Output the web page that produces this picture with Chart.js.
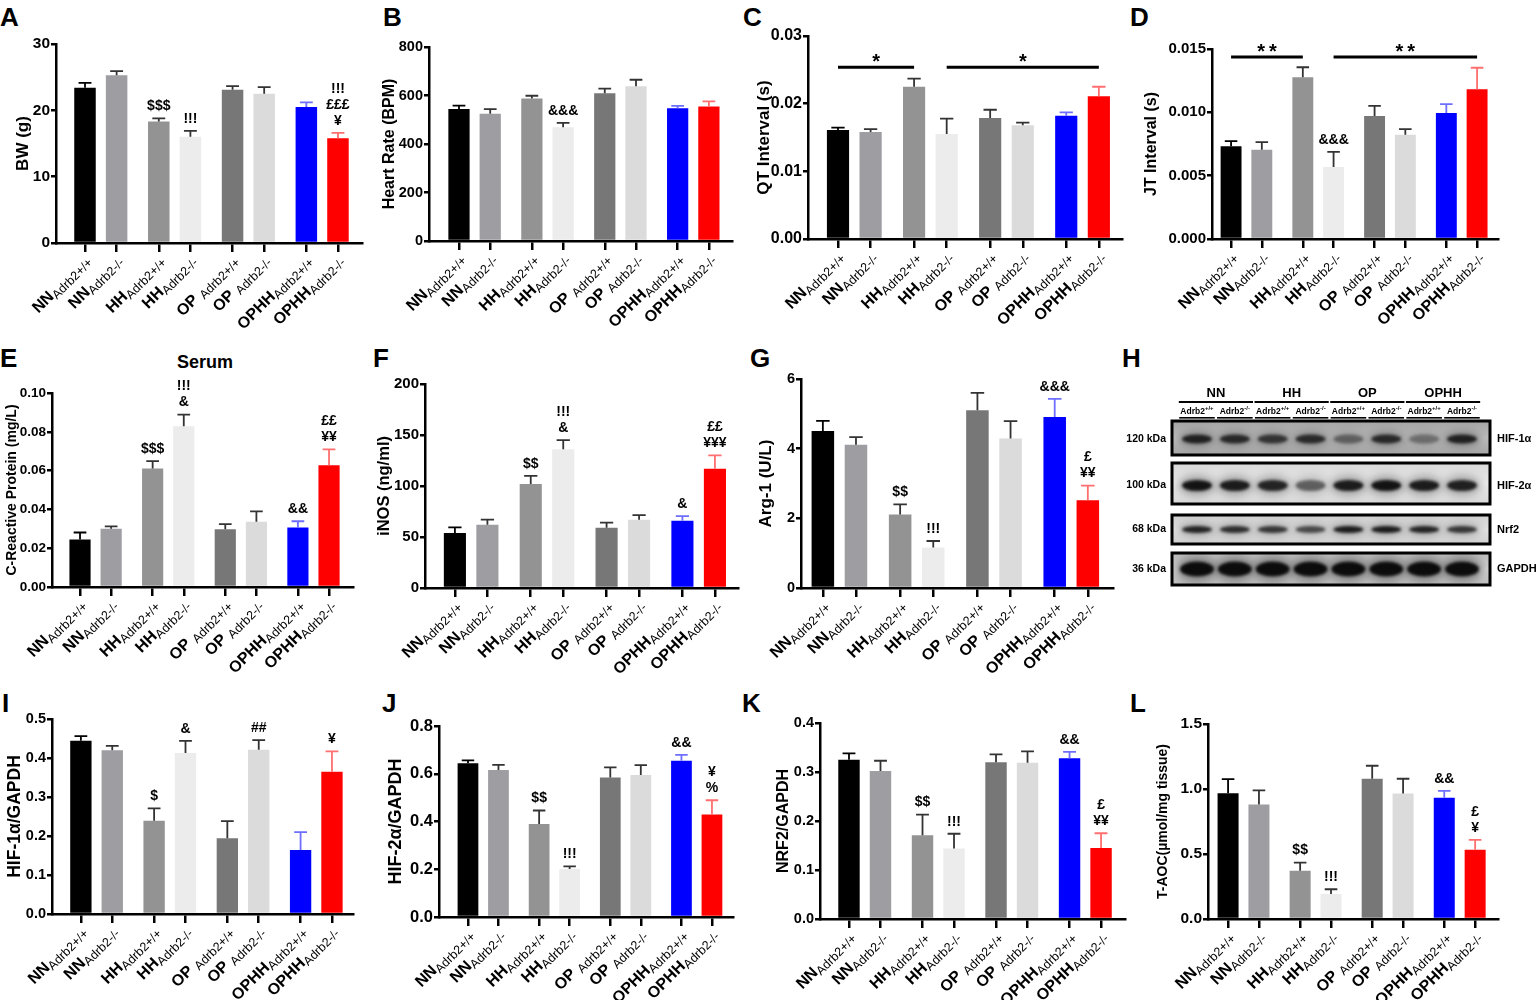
<!DOCTYPE html>
<html>
<head>
<meta charset="utf-8">
<script src="https://cdn.jsdelivr.net/npm/chart.js@4.4.0/dist/chart.umd.min.js"></script>
<style>
  body { margin: 0; background: #fff; width: 1536px; height: 1000px; position: relative; overflow: hidden;
         font-family: "Liberation Sans", Arial, Helvetica, sans-serif; }
  canvas { position: absolute; }
  .letter { position: absolute; font-weight: bold; font-size: 26px; line-height: 26px; color: #000; }
  #serum { position: absolute; left: 205px; top: 353px; transform: translateX(-50%);
           font-weight: bold; font-size: 18px; line-height: 18px; color: #000; }
</style>
</head>
<body>
<div class="letter" style="left:0px;top:4px">A</div>
<div class="letter" style="left:383px;top:4px">B</div>
<div class="letter" style="left:743px;top:4px">C</div>
<div class="letter" style="left:1130px;top:4px">D</div>
<div class="letter" style="left:0px;top:345px">E</div>
<div class="letter" style="left:373px;top:345px">F</div>
<div class="letter" style="left:750px;top:345px">G</div>
<div class="letter" style="left:1122px;top:345px">H</div>
<div class="letter" style="left:2px;top:690px">I</div>
<div class="letter" style="left:382px;top:690px">J</div>
<div class="letter" style="left:742px;top:690px">K</div>
<div class="letter" style="left:1130px;top:690px">L</div>
<div id="serum">Serum</div>

<script>
// groups and colours (same order in every panel)
const groupLabels = ['NN', 'NN', 'HH', 'HH', 'OP ', 'OP ', 'OPHH', 'OPHH'];
const genotypes = ['Adrb2+/+', 'Adrb2-/-', 'Adrb2+/+', 'Adrb2-/-', 'Adrb2+/+', 'Adrb2-/-', 'Adrb2+/+', 'Adrb2-/-'];
const barColors = ['#000000', '#9d9da2', '#939393', '#ececec', '#777777', '#dbdbdb', '#0000ff', '#ff0000'];
const errColors = ['#000000', '#333333', '#333333', '#333333', '#333333', '#333333', '#6f6fff', '#ff6f6f'];

// A - body weight
const bwTicks = ['0', '10', '20', '30'];
const bwMean = [23.4, 25.3, 18.3, 16.0, 23.1, 22.5, 20.5, 15.8];
const bwSem = [0.75, 0.6, 0.5, 0.9, 0.55, 1.0, 0.7, 0.8];
const bwMarks = ['', '', '$$$', '!!!', '', '', '', '!!!\n£££\n¥'];

// B - heart rate
const hrTicks = ['0', '200', '400', '600', '800'];
const hrMean = [544, 525, 588, 469, 609, 638, 547, 555];
const hrSem = [14, 19, 11, 18, 19, 27, 10, 21];
const hrMarks = ['', '', '', '&&&', '', '', '', ''];

// C - QT interval
const qtTicks = ['0.00', '0.01', '0.02', '0.03'];
const qtMean = [0.0161, 0.0158, 0.0225, 0.0155, 0.0179, 0.0168, 0.0182, 0.0211];
const qtSem = [0.00035, 0.00045, 0.0012, 0.0023, 0.0012, 0.0004, 0.0005, 0.0014];
const qtMarks = ['', '', '', '', '', '', '', ''];
const qtBracketFrom = [0, 3];
const qtBracketTo = [2, 7];
const qtBracketText = ['*', '*'];
const qtBracketLevel = 0.0254;

// D - JT interval
const jtTicks = ['0.000', '0.005', '0.010', '0.015'];
const jtMean = [0.00732, 0.00705, 0.01276, 0.00568, 0.00971, 0.00824, 0.00995, 0.01182];
const jtSem = [0.0004, 0.0006, 0.0008, 0.0012, 0.0008, 0.00044, 0.0007, 0.0017];
const jtMarks = ['', '', '', '&&&', '', '', '', ''];
const jtBracketFrom = [0, 3];
const jtBracketTo = [2, 7];
const jtBracketText = ['**', '**'];
const jtBracketLevel = 0.01437;

// E - C-reactive protein
const crpTicks = ['0.00', '0.02', '0.04', '0.06', '0.08', '0.10'];
const crpMean = [0.0245, 0.0300, 0.0611, 0.0829, 0.0298, 0.0336, 0.0307, 0.0628];
const crpSem = [0.0036, 0.0012, 0.0038, 0.0060, 0.0026, 0.0054, 0.0032, 0.0081];
const crpMarks = ['', '', '$$$', '!!!\n&', '', '', '&&', '££\n¥¥'];

// F - iNOS
const inosTicks = ['0', '50', '100', '150', '200'];
const inosMean = [54, 62, 102, 136, 59, 67, 66, 117];
const inosSem = [5.5, 5, 8, 9, 5, 4.5, 4.5, 13];
const inosMarks = ['', '', '$$', '!!!\n&', '', '', '&', '££\n¥¥¥'];

// G - Arg-1
const argTicks = ['0', '2', '4', '6'];
const argMean = [4.51, 4.11, 2.11, 1.16, 5.10, 4.29, 4.91, 2.52];
const argSem = [0.29, 0.22, 0.29, 0.19, 0.50, 0.50, 0.52, 0.42];
const argMarks = ['', '', '$$', '!!!', '', '', '&&&', '£\n¥¥'];

// H - western blot (relative band darkness per lane)
const blotGroups = ['NN', 'HH', 'OP', 'OPHH'];
const blotLaneNames = ['Adrb2', 'Adrb2', 'Adrb2', 'Adrb2', 'Adrb2', 'Adrb2', 'Adrb2', 'Adrb2'];
const blotLaneSup = ['+/+', '-/-', '+/+', '-/-', '+/+', '-/-', '+/+', '-/-'];
const blotLanes = [1, 2, 3, 4, 5, 6, 7, 8];
const blotProteins = ['HIF-1α', 'HIF-2α', 'Nrf2', 'GAPDH'];
const blotMarkers = ['120 kDa', '100 kDa', '68 kDa', '36 kDa'];
const bandHif1 = [0.85, 0.8, 0.72, 0.78, 0.45, 0.8, 0.38, 0.85];
const bandHif2 = [0.95, 0.9, 0.85, 0.55, 0.9, 0.95, 0.9, 0.88];
const bandNrf2 = [0.85, 0.8, 0.75, 0.65, 0.9, 0.9, 0.85, 0.75];
const bandGapdh = [1, 1, 1, 1, 1, 1, 1, 1];

// I - HIF-1a / GAPDH
const hif1Ticks = ['0.0', '0.1', '0.2', '0.3', '0.4', '0.5'];
const hif1Mean = [0.444, 0.420, 0.239, 0.413, 0.194, 0.421, 0.164, 0.365];
const hif1Sem = [0.012, 0.011, 0.032, 0.031, 0.044, 0.025, 0.046, 0.052];
const hif1Marks = ['', '', '$', '&', '', '##', '', '¥'];

// J - HIF-2a / GAPDH
const hif2Ticks = ['0.0', '0.2', '0.4', '0.6', '0.8'];
const hif2Mean = [0.644, 0.616, 0.390, 0.201, 0.584, 0.595, 0.654, 0.429];
const hif2Sem = [0.012, 0.021, 0.056, 0.011, 0.043, 0.041, 0.025, 0.060];
const hif2Marks = ['', '', '$$', '!!!', '', '', '&&', '¥\n%'];

// K - NRF2 / GAPDH
const nrf2Ticks = ['0.0', '0.1', '0.2', '0.3', '0.4'];
const nrf2Mean = [0.325, 0.302, 0.171, 0.144, 0.320, 0.319, 0.328, 0.145];
const nrf2Sem = [0.013, 0.021, 0.042, 0.030, 0.016, 0.023, 0.013, 0.030];
const nrf2Marks = ['', '', '$$', '!!!', '', '', '&&', '£\n¥¥'];

// L - T-AOC
const taocTicks = ['0.0', '0.5', '1.0', '1.5'];
const taocMean = [0.968, 0.881, 0.372, 0.193, 1.079, 0.966, 0.932, 0.532];
const taocSem = [0.108, 0.108, 0.062, 0.036, 0.100, 0.113, 0.054, 0.077];
const taocMarks = ['', '', '$$', '!!!', '', '', '&&', '£\n¥'];

const FONT = '"Liberation Sans", Arial, Helvetica, sans-serif';
Chart.defaults.font.family = FONT;
Chart.defaults.color = '#000';

// pairs of bars sit closer together than the groups
const slots = groupLabels.map((_, i) => i + Math.floor(i / 2) / 3);

// upper error bars, significance marks and brackets
const errorBars = {
  id: 'errorBars',
  afterDatasetsDraw(chart, args, opts) {
    const { ctx, scales: { x, y } } = chart;
    const bars = chart.getDatasetMeta(0).data;
    ctx.save();
    bars.forEach((bar, i) => {
      const top = y.getPixelForValue(opts.mean[i]);
      const hi = y.getPixelForValue(opts.mean[i] + opts.sem[i]);
      const half = bar.width * 0.3;
      ctx.strokeStyle = errColors[i];
      ctx.lineWidth = 1.8;
      ctx.beginPath();
      ctx.moveTo(bar.x, top);
      ctx.lineTo(bar.x, hi);
      ctx.moveTo(bar.x - half, hi);
      ctx.lineTo(bar.x + half, hi);
      ctx.stroke();

      const lines = opts.marks[i] ? opts.marks[i].split('\n') : [];
      ctx.fillStyle = '#000';
      ctx.font = 'bold 14px ' + FONT;
      ctx.textAlign = 'center';
      ctx.textBaseline = 'middle';
      lines.forEach((t, j) => {
        ctx.fillText(t, bar.x, hi - 12 - (lines.length - 1 - j) * 16);
      });
    });

    if (opts.from) {
      const ly = y.getPixelForValue(opts.level);
      opts.from.forEach((f, k) => {
        const x1 = x.getPixelForValue(slots[f]);
        const x2 = x.getPixelForValue(slots[opts.to[k]]);
        ctx.strokeStyle = '#000';
        ctx.lineWidth = 3;
        ctx.beginPath();
        ctx.moveTo(x1, ly);
        ctx.lineTo(x2, ly);
        ctx.stroke();
        ctx.font = 'bold 20px ' + FONT;
        ctx.textAlign = 'center';
        ctx.textBaseline = 'alphabetic';
        ctx.letterSpacing = opts.text[k].length > 1 ? '4px' : '0px';
        ctx.fillText(opts.text[k], (x1 + x2) / 2 + (opts.text[k].length > 1 ? 2 : 0), ly + 1);
        ctx.letterSpacing = '0px';
      });
    }
    ctx.restore();
  }
};

// rotated group labels with subscript genotype
const axisLabels = {
  id: 'axisLabels',
  afterDraw(chart) {
    const { ctx, chartArea, scales: { x } } = chart;
    ctx.save();
    ctx.fillStyle = '#000';
    slots.forEach((s, i) => {
      const px = x.getPixelForValue(s);
      ctx.save();
      ctx.translate(px + 3, chartArea.bottom + 15);
      ctx.rotate(-Math.PI / 4);
      ctx.textAlign = 'right';
      ctx.textBaseline = 'middle';
      ctx.font = '12.5px ' + FONT;
      ctx.fillText(genotypes[i], 0, 4);
      const w = ctx.measureText(genotypes[i]).width;
      ctx.font = 'bold 16px ' + FONT;
      ctx.fillText(groupLabels[i], -w, 0);
      ctx.restore();
    });
    ctx.restore();
  }
};

function makePanel(p) {
  const cv = document.createElement('canvas');
  const left = p.titleX - 10, top = p.T - 30;
  const w = p.R + 15 - left, h = p.B + 95 - top;
  cv.width = w; cv.height = h;
  cv.style.left = left + 'px'; cv.style.top = top + 'px';
  cv.style.width = w + 'px'; cv.style.height = h + 'px';
  document.body.appendChild(cv);

  const tv = p.ticks.map(Number);
  const step = tv[1] - tv[0];
  new Chart(cv, {
    type: 'bar',
    data: {
      datasets: [{
        data: slots.map((s, i) => ({ x: s, y: p.mean[i] })),
        backgroundColor: barColors,
        borderWidth: 0,
        barPercentage: 0.68,
        categoryPercentage: 1
      }]
    },
    options: {
      responsive: false,
      animation: false,
      layout: { padding: { top: 30, right: 15, left: 0, bottom: 0 } },
      plugins: {
        legend: { display: false },
        tooltip: { enabled: false },
        errorBars: { mean: p.mean, sem: p.sem, marks: p.marks,
                     from: p.from, to: p.to, text: p.text, level: p.level }
      },
      scales: {
        x: {
          type: 'linear', min: p.xmin, max: p.xmax, offset: false,
          afterBuildTicks: s => { s.ticks = slots.map(v => ({ value: v })); },
          afterFit: s => { s.height = 95; },
          ticks: { display: false },
          grid: { display: true, offset: false, drawOnChartArea: false, drawTicks: true,
                  tickLength: 9, color: '#000', lineWidth: 2.5 },
          border: { display: true, color: '#000', width: 2.5 }
        },
        y: {
          min: tv[0], max: tv[tv.length - 1],
          afterFit: s => { s.width = p.L - left; },
          ticks: {
            stepSize: step, padding: 1, color: '#000',
            font: { size: p.tickSize, weight: 'bold' },
            callback: v => p.ticks[Math.round((v - tv[0]) / step)] ?? ''
          },
          grid: { drawOnChartArea: false, drawTicks: true, tickLength: 5, color: '#000', lineWidth: 2.5 },
          border: { display: true, color: '#000', width: 2.5 },
          title: { display: true, text: p.title, color: '#000', padding: 0,
                   font: { size: p.titleSize, weight: 'bold' } }
        }
      }
    },
    plugins: [errorBars, axisLabels]
  });
}

const panels = [
  { title: 'BW (g)', ticks: bwTicks, mean: bwMean, sem: bwSem, marks: bwMarks,
    L: 56, T: 44, R: 362, B: 243, titleX: 23, titleSize: 17, tickSize: 15.5, xmin: -0.917, xmax: 8.76 },
  { title: 'Heart Rate (BPM)', ticks: hrTicks, mean: hrMean, sem: hrSem, marks: hrMarks,
    L: 429, T: 47, R: 732, B: 241, titleX: 390, titleSize: 16, tickSize: 14.5, xmin: -0.96, xmax: 8.74 },
  { title: 'QT Interval (s)', ticks: qtTicks, mean: qtMean, sem: qtSem, marks: qtMarks,
    from: qtBracketFrom, to: qtBracketTo, text: qtBracketText, level: qtBracketLevel,
    L: 808, T: 36, R: 1122, B: 239, titleX: 764, titleSize: 17, tickSize: 16, xmin: -0.92, xmax: 8.71 },
  { title: 'JT Interval (s)', ticks: jtTicks, mean: jtMean, sem: jtSem, marks: jtMarks,
    from: jtBracketFrom, to: jtBracketTo, text: jtBracketText, level: jtBracketLevel,
    L: 1212, T: 49, R: 1498, B: 239, titleX: 1152, titleSize: 16, tickSize: 15, xmin: -0.62, xmax: 8.68 },
  { title: 'C-Reactive Protein (mg/L)', ticks: crpTicks, mean: crpMean, sem: crpSem, marks: crpMarks,
    L: 52, T: 393, R: 353, B: 587, titleX: 14, titleSize: 14, tickSize: 13.5, xmin: -0.9, xmax: 8.77 },
  { title: 'iNOS (ng/ml)', ticks: inosTicks, mean: inosMean, sem: inosSem, marks: inosMarks,
    L: 425, T: 384, R: 738, B: 588, titleX: 385, titleSize: 16.5, tickSize: 15, xmin: -0.92, xmax: 8.71 },
  { title: 'Arg-1 (U/L)', ticks: argTicks, mean: argMean, sem: argSem, marks: argMarks,
    L: 801, T: 379, R: 1113, B: 588, titleX: 766, titleSize: 17, tickSize: 14.5, xmin: -0.66, xmax: 8.76 },
  { title: 'HIF-1α/GAPDH', ticks: hif1Ticks, mean: hif1Mean, sem: hif1Sem, marks: hif1Marks,
    L: 52, T: 719, R: 353, B: 914, titleX: 15, titleSize: 17.5, tickSize: 14.5, xmin: -0.92, xmax: 8.67 },
  { title: 'HIF-2α/GAPDH', ticks: hif2Ticks, mean: hif2Mean, sem: hif2Sem, marks: hif2Marks,
    L: 439, T: 726, R: 733, B: 917, titleX: 395, titleSize: 18, tickSize: 16.5, xmin: -0.95, xmax: 8.69 },
  { title: 'NRF2/GAPDH', ticks: nrf2Ticks, mean: nrf2Mean, sem: nrf2Sem, marks: nrf2Marks,
    L: 820, T: 723, R: 1125, B: 919, titleX: 784, titleSize: 16, tickSize: 14.5, xmin: -0.92, xmax: 8.76 },
  { title: 'T-AOC(µmol/mg tissue)', ticks: taocTicks, mean: taocMean, sem: taocSem, marks: taocMarks,
    L: 1208, T: 724, R: 1498, B: 919, titleX: 1165, titleSize: 14, tickSize: 15.5, xmin: -0.65, xmax: 8.74 }
];
panels.forEach(makePanel);

// western blot panel
const blotRows = [
  { vals: bandHif1, top: 46, h: 34, bg: ['#a4a4a4', '#bdbdbd'], bw: 30, bh: 9, dy: 1 },
  { vals: bandHif2, top: 88, h: 41, bg: ['#d8d8d8', '#eaeaea'], bw: 30, bh: 11, dy: 2 },
  { vals: bandNrf2, top: 140, h: 29, bg: ['#d0d0d0', '#e2e2e2'], bw: 30, bh: 7, dy: 0 },
  { vals: bandGapdh, top: 178, h: 32, bg: ['#bcbcbc', '#d4d4d4'], bw: 34, bh: 15, dy: 0 }
];

const blotPlugin = {
  id: 'blot',
  afterDraw(chart) {
    const { ctx, scales: { x } } = chart;
    const lx = i => x.getPixelForValue(blotLanes[i]);
    const step = lx(1) - lx(0);
    ctx.save();
    ctx.fillStyle = '#000';
    ctx.textAlign = 'center';
    ctx.textBaseline = 'middle';
    ctx.font = 'bold 13px ' + FONT;
    blotGroups.forEach((g, k) => {
      const a = lx(2 * k), b = lx(2 * k + 1);
      ctx.fillText(g, (a + b) / 2, 18);
      ctx.fillRect(a - step * 0.48, 26, b - a + step * 0.96, 2);
    });
    blotLanes.forEach((_, i) => {
      const c = lx(i);
      ctx.font = 'bold 8.5px ' + FONT;
      const w1 = ctx.measureText(blotLaneNames[i]).width;
      ctx.font = 'bold 6px ' + FONT;
      const w2 = ctx.measureText(blotLaneSup[i]).width;
      const sx = c - (w1 + w2) / 2;
      ctx.textAlign = 'left';
      ctx.textBaseline = 'alphabetic';
      ctx.font = 'bold 8.5px ' + FONT;
      ctx.fillText(blotLaneNames[i], sx, 39);
      ctx.font = 'bold 6px ' + FONT;
      ctx.fillText(blotLaneSup[i], sx + w1, 35);
      ctx.fillRect(c - step * 0.47, 42, step * 0.94, 1.6);
    });

    blotRows.forEach((row, r) => {
      const bx = x.left, bwid = x.right - x.left;
      const cy = row.top + row.h / 2 + row.dy;
      ctx.save();
      ctx.beginPath();
      ctx.rect(bx, row.top, bwid, row.h);
      ctx.clip();
      const grad = ctx.createLinearGradient(0, row.top, 0, row.top + row.h);
      grad.addColorStop(0, row.bg[0]);
      grad.addColorStop(0.5, row.bg[1]);
      grad.addColorStop(1, row.bg[0]);
      ctx.fillStyle = grad;
      ctx.fillRect(bx, row.top, bwid, row.h);
      row.vals.forEach((v, i) => {
        const c = lx(i);
        ctx.filter = 'blur(4px)';
        ctx.fillStyle = 'rgba(20,20,20,' + (v * 0.35) + ')';
        ctx.beginPath();
        ctx.ellipse(c, cy, row.bw * 0.62, row.bh * 0.9, 0, 0, Math.PI * 2);
        ctx.fill();
        ctx.filter = 'blur(1.5px)';
        ctx.fillStyle = 'rgba(12,12,12,' + v + ')';
        ctx.beginPath();
        ctx.ellipse(c, cy, row.bw / 2, row.bh / 2, 0, 0, Math.PI * 2);
        ctx.fill();
      });
      ctx.filter = 'none';
      ctx.restore();
      ctx.strokeStyle = '#000';
      ctx.lineWidth = 3;
      ctx.strokeRect(bx, row.top, bwid, row.h);

      ctx.fillStyle = '#000';
      ctx.textBaseline = 'middle';
      ctx.textAlign = 'right';
      ctx.font = 'bold 10.5px ' + FONT;
      ctx.fillText(blotMarkers[r], bx - 6, cy);
      ctx.textAlign = 'left';
      ctx.font = 'bold 11px ' + FONT;
      ctx.fillText(blotProteins[r], x.right + 7, cy);
    });
    ctx.restore();
  }
};

(function makeBlot() {
  const cv = document.createElement('canvas');
  cv.width = 426; cv.height = 225;
  cv.style.left = '1110px'; cv.style.top = '375px';
  cv.style.width = '426px'; cv.style.height = '225px';
  document.body.appendChild(cv);
  new Chart(cv, {
    type: 'bar',
    data: { datasets: [] },
    options: {
      responsive: false,
      animation: false,
      layout: { padding: { left: 62, right: 46, top: 0, bottom: 0 } },
      plugins: { legend: { display: false }, tooltip: { enabled: false } },
      scales: {
        x: { type: 'linear', display: false, min: 0.34, max: 8.74, offset: false },
        y: { display: false, min: 0, max: 1 }
      }
    },
    plugins: [blotPlugin]
  });
})();
</script>
</body>
</html>
